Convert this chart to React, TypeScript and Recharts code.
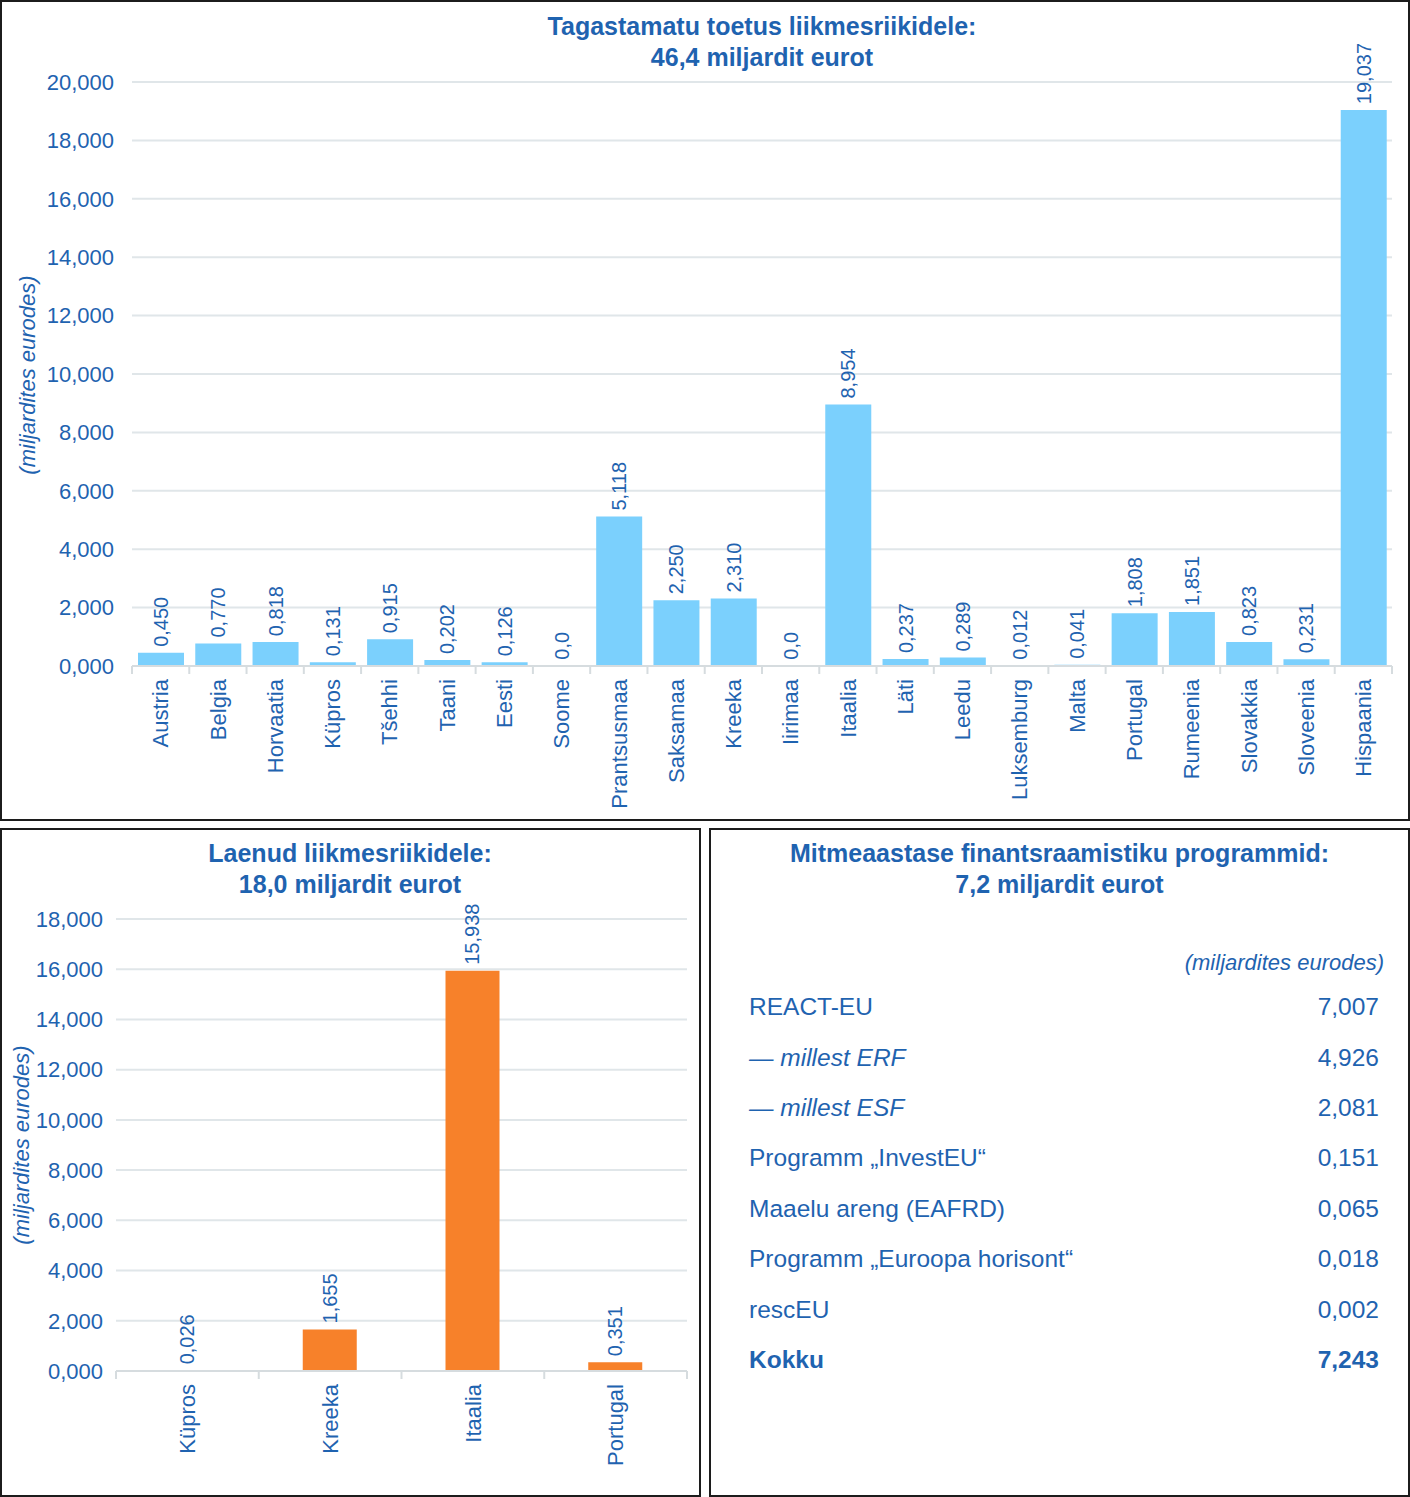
import React, { useEffect } from 'react';
import { BarChart, Bar, XAxis, YAxis, CartesianGrid, LabelList } from 'recharts';

const grantCountries = [
  'Austria', 'Belgia', 'Horvaatia', 'Küpros', 'Tšehhi', 'Taani', 'Eesti', 'Soome',
  'Prantsusmaa', 'Saksamaa', 'Kreeka', 'Iirimaa', 'Itaalia', 'Läti', 'Leedu',
  'Luksemburg', 'Malta', 'Portugal', 'Rumeenia', 'Slovakkia', 'Sloveenia', 'Hispaania',
];
const grantValues = [
  0.45, 0.77, 0.818, 0.131, 0.915, 0.202, 0.126, 0, 5.118, 2.25, 2.31, 0, 8.954,
  0.237, 0.289, 0.012, 0.041, 1.808, 1.851, 0.823, 0.231, 19.037,
];
const grantTicks = [0, 2, 4, 6, 8, 10, 12, 14, 16, 18, 20];

const loanCountries = ['Küpros', 'Kreeka', 'Itaalia', 'Portugal'];
const loanValues = [0.026, 1.655, 15.938, 0.351];
const loanTicks = [0, 2, 4, 6, 8, 10, 12, 14, 16, 18];

const mffPrograms = [
  'REACT-EU',
  '— millest ERF',
  '— millest ESF',
  'Programm „InvestEU“',
  'Maaelu areng (EAFRD)',
  'Programm „Euroopa horisont“',
  'rescEU',
  'Kokku',
];
const mffValues = [7.007, 4.926, 2.081, 0.151, 0.065, 0.018, 0.002, 7.243];

const BLUE = '#1f63b0';
const LIGHT_BLUE = '#7bd0fd';
const ORANGE = '#f7812a';
const GRID = '#e0e6e9';
const AXIS = '#d6dcdf';
const FONT = '"Liberation Sans", Arial, Helvetica, sans-serif';

const fmt = (v: number) => v.toFixed(3).replace('.', ',');
const fmtLabel = (v: number) => (v === 0 ? '0,0' : fmt(v));

const grantData = grantCountries.map((name, i) => ({ name, value: grantValues[i] }));
const loanData = loanCountries.map((name, i) => ({ name, value: loanValues[i] }));

// zero-valued bars get a hairline height so recharts still places their labels
const zeroHairline = (v: any) => (Number(v) === 0 ? 0.3 : 0);

const makeCategoryTick = (band: number, count: number) => (props: any) => {
  const { x, y, payload, index } = props;
  const ty = y + 13;
  return (
    <g>
      <line x1={x - band / 2} x2={x - band / 2} y1={y} y2={y + 8} stroke={AXIS} strokeWidth={2} />
      {index === count - 1 && (
        <line x1={x + band / 2} x2={x + band / 2} y1={y} y2={y + 8} stroke={AXIS} strokeWidth={2} />
      )}
      <text
        x={x}
        y={ty}
        transform={`rotate(-90 ${x} ${ty})`}
        textAnchor="end"
        dy="0.35em"
        fill={BLUE}
        fontSize={22}
        fontFamily={FONT}
      >
        {payload.value}
      </text>
    </g>
  );
};

const renderValueLabel = (props: any) => {
  const vb = props.viewBox || {};
  const x = Number(props.x ?? vb.x);
  const y = Number(props.y ?? vb.y);
  const w = Number(props.width ?? vb.width);
  const cx = x + w / 2;
  const cy = y - 6;
  return (
    <text
      x={cx}
      y={cy}
      transform={`rotate(-90 ${cx} ${cy})`}
      textAnchor="start"
      dy="0.35em"
      fill={BLUE}
      fontSize={20}
      fontFamily={FONT}
    >
      {fmtLabel(Number(props.value))}
    </text>
  );
};

const titleStyle = (left: number, top: number, width: number): React.CSSProperties => ({
  position: 'absolute',
  left,
  top,
  width,
  textAlign: 'center',
  color: BLUE,
  fontWeight: 'bold',
  fontSize: 25,
  lineHeight: '31px',
  fontFamily: FONT,
});

const axisTitle = (cx: number, cy: number): React.CSSProperties => ({
  position: 'absolute',
  left: cx,
  top: cy,
  transform: 'translate(-50%, -50%) rotate(-90deg)',
  whiteSpace: 'nowrap',
  color: BLUE,
  fontStyle: 'italic',
  fontSize: 22,
  fontFamily: FONT,
});

const panel = (left: number, top: number, width: number, height: number): React.CSSProperties => ({
  position: 'absolute',
  left,
  top,
  width,
  height,
  border: '2px solid #1c1c1c',
  boxSizing: 'border-box',
});

export default function App() {
  useEffect(() => {
    document.body.style.margin = '0';
  }, []);

  const grantBand = 1260 / grantCountries.length;
  const loanBand = 571 / loanCountries.length;

  return (
    <div style={{ position: 'relative', width: 1410, height: 1497, background: '#fff', fontFamily: FONT }}>
      <div style={panel(0, 0, 1410, 821)} />
      <div style={panel(0, 828, 701, 669)} />
      <div style={panel(709, 828, 701, 669)} />

      {/* top: grants */}
      <div style={{ position: 'absolute', left: 0, top: 0 }}>
        <BarChart
          width={1410}
          height={820}
          data={grantData}
          margin={{ top: 82, right: 18, left: 0, bottom: 0 }}
        >
          <CartesianGrid vertical={false} stroke={GRID} strokeWidth={2} />
          <YAxis
            width={132}
            domain={[0, 20]}
            ticks={grantTicks}
            interval={0}
            tickFormatter={fmt}
            axisLine={false}
            tickLine={false}
            tickSize={0}
            tickMargin={18}
            tick={{ fill: BLUE, fontSize: 22, fontFamily: FONT }}
          />
          <XAxis
            dataKey="name"
            height={154}
            interval={0}
            axisLine={{ stroke: AXIS, strokeWidth: 2 }}
            tickLine={false}
            tickSize={0}
            tickMargin={0}
            tick={makeCategoryTick(grantBand, grantCountries.length)}
          />
          <Bar
            dataKey="value"
            fill={LIGHT_BLUE}
            barSize={46}
            minPointSize={zeroHairline}
            isAnimationActive={false}
          >
            <LabelList dataKey="value" content={renderValueLabel} />
          </Bar>
        </BarChart>
      </div>
      <div style={titleStyle(462, 11, 600)}>
        Tagastamatu toetus liikmesriikidele:
        <br />
        46,4 miljardit eurot
      </div>
      <div style={axisTitle(28, 375)}>(miljardites eurodes)</div>

      {/* bottom left: loans */}
      <div style={{ position: 'absolute', left: 0, top: 828 }}>
        <BarChart
          width={700}
          height={669}
          data={loanData}
          margin={{ top: 91, right: 13, left: 0, bottom: 0 }}
        >
          <CartesianGrid vertical={false} stroke={GRID} strokeWidth={2} />
          <YAxis
            width={116}
            domain={[0, 18]}
            ticks={loanTicks}
            interval={0}
            tickFormatter={fmt}
            axisLine={false}
            tickLine={false}
            tickSize={0}
            tickMargin={13}
            tick={{ fill: BLUE, fontSize: 22, fontFamily: FONT }}
          />
          <XAxis
            dataKey="name"
            height={126}
            interval={0}
            axisLine={{ stroke: AXIS, strokeWidth: 2 }}
            tickLine={false}
            tickSize={0}
            tickMargin={0}
            tick={makeCategoryTick(loanBand, loanCountries.length)}
          />
          <Bar dataKey="value" fill={ORANGE} barSize={54} isAnimationActive={false}>
            <LabelList dataKey="value" content={renderValueLabel} />
          </Bar>
        </BarChart>
      </div>
      <div style={titleStyle(0, 838, 700)}>
        Laenud liikmesriikidele:
        <br />
        18,0 miljardit eurot
      </div>
      <div style={axisTitle(22, 1145)}>(miljardites eurodes)</div>

      {/* bottom right: MFF programmes */}
      <div style={titleStyle(711, 838, 697)}>
        Mitmeaastase finantsraamistiku programmid:
        <br />
        7,2 miljardit eurot
      </div>
      <div
        style={{
          position: 'absolute',
          right: 1410 - 1384,
          top: 950,
          color: BLUE,
          fontStyle: 'italic',
          fontSize: 22,
          lineHeight: '26px',
        }}
      >
        (miljardites eurodes)
      </div>
      <div style={{ position: 'absolute', left: 749, top: 982, width: 630 }}>
        {mffPrograms.map((label, i) => {
          const total = i === mffPrograms.length - 1;
          const sub = label.startsWith('—');
          return (
            <div
              key={label}
              style={{
                display: 'flex',
                justifyContent: 'space-between',
                alignItems: 'center',
                height: 50.4,
                color: BLUE,
                fontSize: 24.5,
                fontWeight: total ? 'bold' : 'normal',
              }}
            >
              <span style={{ fontStyle: sub ? 'italic' : 'normal' }}>{label}</span>
              <span>{fmt(mffValues[i])}</span>
            </div>
          );
        })}
      </div>
    </div>
  );
}
